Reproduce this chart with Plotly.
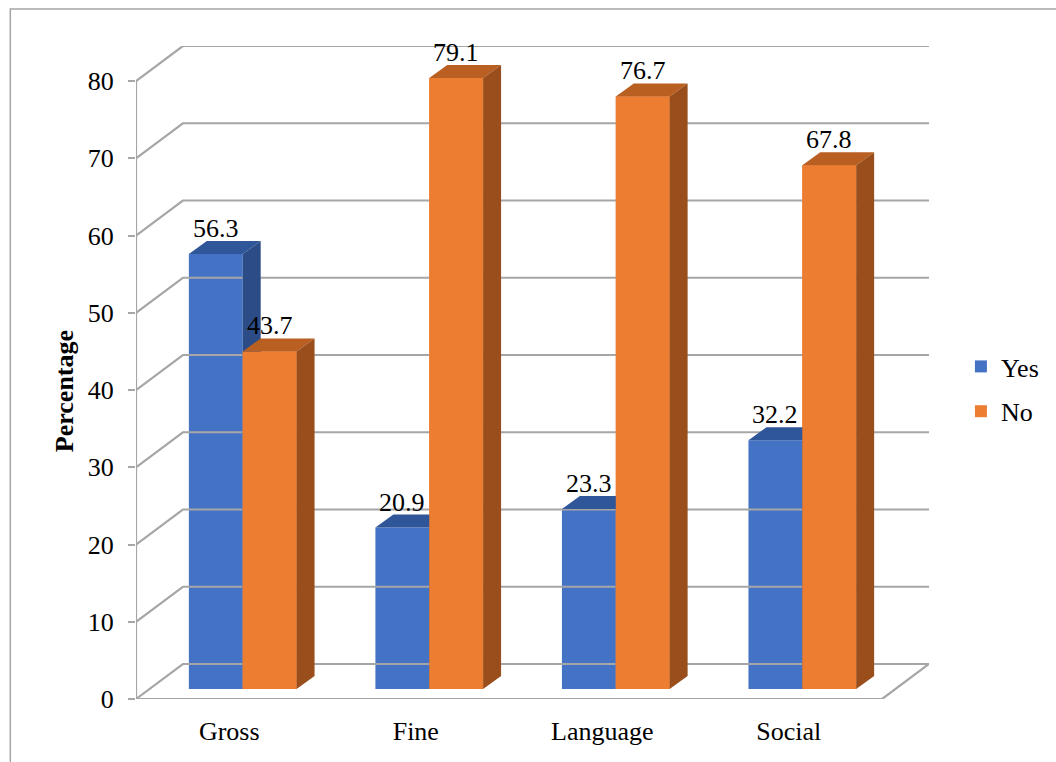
import plotly.graph_objects as go

# ---------------- data ----------------
categories = ["Gross", "Fine", "Language", "Social"]
yes_values = [56.3, 20.9, 23.3, 32.2]
no_values = [43.7, 79.1, 76.7, 67.8]
y_ticks = [0, 10, 20, 30, 40, 50, 60, 70, 80]
series_names = ["Yes", "No"]

# ---------------- style / geometry ----------------
FONT = "Liberation Serif"
FS = 26
W, H = 1056, 762
ML, MR, MT, MB = 136, 125, 46, 63
X_PX = 187.0      # px per category unit
Y_PX = 7.725      # px per value unit


def ux(px):
    return px / X_PX


def uy(px):
    return px / Y_PX


DXB, DYB = ux(47), uy(35)      # back-wall offset
BOX, BOY = ux(13.5), uy(10)    # bar front-plane offset
BDX, BDY = ux(18), uy(13)      # bar depth
BW = ux(54)                    # bar width

GRID = "#a6a6a6"
COL = {
    "Yes": {"front": "#4472C4", "top": "#30569A", "side": "#2B4C86"},
    "No": {"front": "#ED7D31", "top": "#B95F22", "side": "#994E1C"},
}

n_cat = len(categories)
x_max = n_cat + DXB
y_max = max(y_ticks) + DYB
plot_w = W - ML - MR
plot_h = H - MT - MB


def px_to_paper_x(px):
    return (px - ML) / plot_w


def px_to_paper_y(py):
    return (H - MB - py) / plot_h


fig = go.Figure()

# ---------------- walls / gridlines ----------------
gx, gy = [], []
for v in y_ticks:
    gx += [0, DXB, n_cat + DXB, None]
    gy += [v, v + DYB, v + DYB, None]
# floor right edge
gx += [n_cat, n_cat + DXB, None]
gy += [0, DYB, None]
# front floor edge
gx += [0, n_cat, None]
gy += [0, 0, None]
# front vertical axis
gx += [0, 0, None]
gy += [0, max(y_ticks), None]
fig.add_trace(go.Scatter(x=gx, y=gy, mode="lines", line=dict(color=GRID, width=2.2),
                         hoverinfo="skip", showlegend=False))

# ---------------- bars ----------------
series = {"Yes": yes_values, "No": no_values}
centers = {}
for s_i, name in enumerate(series_names):
    sign = -1 if name == "Yes" else 1
    centers[name] = [i + 0.5 + BOX + sign * BW / 2 for i in range(n_cat)]
    fig.add_trace(go.Bar(
        x=centers[name], y=series[name], base=[BOY] * n_cat, width=[BW] * n_cat,
        name=name, marker=dict(color=COL[name]["front"], line=dict(width=0)),
        legendgroup=name, hoverinfo="skip"))


def faces(name, with_front=False):
    fx, fy, tx, ty, sx, sy = [], [], [], [], [], []
    for cx, v in zip(centers[name], series[name]):
        x0, x1 = cx - BW / 2, cx + BW / 2
        b, t = BOY, BOY + v
        fx += [x0, x1, x1, x0, x0, None]
        fy += [b, b, t, t, b, None]
        tx += [x0, x1, x1 + BDX, x0 + BDX, x0, None]
        ty += [t, t, t + BDY, t + BDY, t, None]
        sx += [x1, x1 + BDX, x1 + BDX, x1, x1, None]
        sy += [b, b + BDY, t + BDY, t, b, None]
    out = []
    if with_front:
        out.append((fx, fy, COL[name]["front"]))
    out.append((tx, ty, COL[name]["top"]))
    out.append((sx, sy, COL[name]["side"]))
    return out


for name, wf in (("Yes", False), ("No", True)):
    for xs, ys, c in faces(name, wf):
        fig.add_trace(go.Scatter(x=xs, y=ys, mode="lines", fill="toself", fillcolor=c,
                                 line=dict(width=0, color=c), hoverinfo="skip",
                                 showlegend=False))

# ---------------- data labels ----------------
annotations = []
for name in series_names:
    for cx, v in zip(centers[name], series[name]):
        annotations.append(dict(x=cx, y=v + BOY + BDY, text=f"{v:.1f}", showarrow=False,
                                xanchor="center", yanchor="bottom", yshift=-4,
                                font=dict(family=FONT, size=FS, color="black")))

# axis title
annotations.append(dict(xref="paper", yref="paper", x=px_to_paper_x(64), y=px_to_paper_y(391),
                        text="<b>Percentage</b>", textangle=-90, showarrow=False,
                        xanchor="center", yanchor="middle",
                        font=dict(family=FONT, size=26, color="black")))

# outer frame
shapes = [dict(type="rect", xref="paper", yref="paper",
               x0=px_to_paper_x(10), x1=px_to_paper_x(1080),
               y0=px_to_paper_y(790), y1=px_to_paper_y(9),
               line=dict(color="#a6a6a6", width=1.5), fillcolor="rgba(0,0,0,0)",
               layer="below")]

fig.update_layout(
    width=W, height=H,
    margin=dict(l=ML, r=MR, t=MT, b=MB),
    paper_bgcolor="white", plot_bgcolor="white",
    barmode="overlay",
    font=dict(family=FONT, size=FS, color="black"),
    showlegend=True,
    legend=dict(x=px_to_paper_x(963), y=px_to_paper_y(389), xanchor="left", yanchor="middle",
                font=dict(family=FONT, size=FS, color="black"), tracegroupgap=8,
                bgcolor="rgba(0,0,0,0)", traceorder="grouped"),
    annotations=annotations,
    shapes=shapes,
)
fig.update_xaxes(range=[0, x_max], showgrid=False, zeroline=False, showline=False,
                 tickvals=[i + 0.5 for i in range(n_cat)], ticktext=categories,
                 ticks="", ticklabelstandoff=14,
                 tickfont=dict(family=FONT, size=FS, color="black"), fixedrange=True)
fig.update_yaxes(range=[0, y_max], showgrid=False, zeroline=False, showline=False,
                 tickvals=y_ticks, ticks="outside", ticklen=7, tickwidth=2, tickcolor=GRID,
                 ticklabelstandoff=9,
                 tickfont=dict(family=FONT, size=FS, color="black"), fixedrange=True)

fig.write_html("out.html")
